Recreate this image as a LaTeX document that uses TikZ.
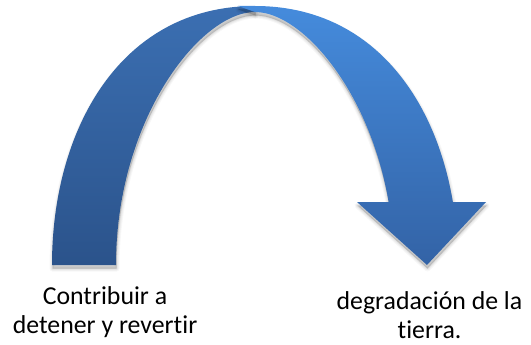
\documentclass[tikz,border=0pt]{standalone}
\usepackage{fontspec}
\setmainfont{Carlito}[Ligatures=NoCommon]
\definecolor{darktop}{RGB}{59,111,178}
\definecolor{darkbot}{RGB}{43,83,139}
\definecolor{lighttop}{RGB}{69,139,220}
\definecolor{lightbot}{RGB}{51,99,166}
\begin{document}
\begin{tikzpicture}[x=1pt,y=-1pt,
  txt/.style={font=\fontsize{25.8}{28.8}\selectfont, align=center, inner sep=0pt, text=black},
  shadowpass/.style={fill=black, draw=black, line join=round}]
\useasboundingbox (0,0) rectangle (531,345);
\def\Lband{(52,265) .. controls (52,130) and (120,6) .. (255,6) -- (255,12) .. controls (200,12) and (116,120) .. (116,265) -- cycle}
\def\Rband{(238,6) -- (255,6) .. controls (390,6) and (458,130) .. (458,265) -- (394,265) .. controls (394,120) and (310,12) .. (255,12) -- cycle}
\def\Rhead{(357,202) -- (486,202) -- (427,265) -- cycle}
% left band
\foreach \w/\op in {6/0.03,4/0.04,2/0.05,0.1/0.06}{\path[shadowpass, opacity=\op, line width=\w pt, shift={(0.5,3.5)}] \Lband;}
\shade[top color=darktop, bottom color=darkbot] \Lband;
% right band
\begin{scope}
  \clip (0,0) rectangle (531,203);
  \foreach \w/\op in {6/0.03,4/0.04,2/0.05,0.1/0.06}{\path[shadowpass, opacity=\op, line width=\w pt, shift={(0.5,3.5)}] \Rband;}
\end{scope}
\begin{scope}
  \clip \Rband;
  \clip (0,0) rectangle (531,203);
  \shade[top color=lighttop, bottom color=lightbot] (230,6) rectangle (500,265);
\end{scope}
% arrow head
\foreach \w/\op in {6/0.03,4/0.04,2/0.05,0.1/0.06}{\path[shadowpass, opacity=\op, line width=\w pt, shift={(0.5,3.5)}] \Rhead;}
\begin{scope}
  \clip \Rhead;
  \shade[top color=lighttop, bottom color=lightbot] (230,6) rectangle (500,265);
\end{scope}
% labels
\node[txt, anchor=base] (src) at (105,333) {Contribuir a\\detener y revertir};
\node[txt, anchor=base] (dst) at (429.5,338) {degradación de la\\tierra.};
\end{tikzpicture}
\end{document}
